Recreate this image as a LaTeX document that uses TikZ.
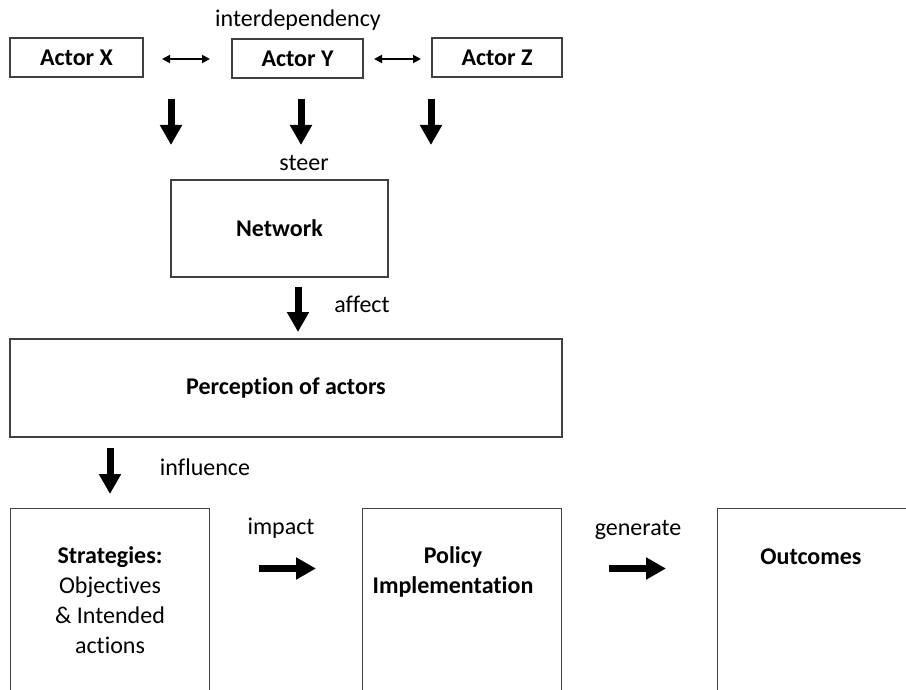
\documentclass[tikz,border=0pt]{standalone}
\usepackage{fontspec}
\setmainfont{Carlito}[Ligatures=NoCommon]
\usetikzlibrary{arrows.meta,positioning}
\newcommand{\dfont}{\fontsize{24}{30}\selectfont}

\begin{document}
\begin{tikzpicture}[x=1pt,y=-1pt]
  \tikzstyle{box}=[rectangle, draw=black!75, line width=1.2pt, inner sep=0pt, font=\dfont\bfseries, align=center]
  \tikzstyle{tag}=[inner sep=0pt, font=\dfont, align=center]
  \tikzstyle{flow}=[-{Triangle[width=21pt,length=20pt]}, line width=7pt]
  \tikzstyle{link}=[{Triangle[width=8pt,length=8pt]}-{Triangle[width=8pt,length=8pt]}, line width=1.8pt]

  \useasboundingbox (0,0) rectangle (906,690);
  \clip (0,0) rectangle (906,690);

  % Actors
  \node[box, minimum width=133, minimum height=39] (ax) at (76.5,57.5) {Actor X};
  \node[box, minimum width=131, minimum height=39] (ay) at (297.5,58.5) {Actor Y};
  \node[box, minimum width=130, minimum height=39] (az) at (497,57.5) {Actor Z};
  \node[tag] (inter) at (298,20) {interdependency};

  % interdependency arrows
  \coordinate (l1) at (162,59);
  \coordinate (l2) at (210,59);
  \coordinate (l3) at (374,59);
  \coordinate (l4) at (421,59);
  \draw[link] (l1) -- (l2);
  \draw[link] (l3) -- (l4);

  % steering arrows
  \coordinate (d1) at (171,99);
  \coordinate (e1) at (171,145);
  \coordinate (d2) at (301,99);
  \coordinate (e2) at (301,145);
  \coordinate (d3) at (431,99);
  \coordinate (e3) at (431,145);
  \draw[flow] (d1) -- (e1);
  \draw[flow] (d2) -- (e2);
  \draw[flow] (d3) -- (e3);
  \node[tag] (steer) at (304,163) {steer};

  % Network
  \node[box, minimum width=217, minimum height=97] (net) at (279.5,228.5) {Network};

  \coordinate (d4) at (298,287);
  \coordinate (e4) at (298,332);
  \draw[flow] (d4) -- (e4);
  \node[tag] (affect) at (362,304) {affect};

  % Perception
  \node[box, minimum width=552, minimum height=98] (perc) at (286,388) {Perception of actors};

  \coordinate (d5) at (110,448);
  \coordinate (e5) at (110,494);
  \draw[flow] (d5) -- (e5);
  \node[tag] (infl) at (205,467) {influence};

  % Bottom row (boxes run off the page)
  \node[box, minimum width=199, minimum height=230, anchor=north west] (strat) at (10,508) {};
  \node[box, minimum width=199, minimum height=230, anchor=north west] (pol) at (362,508) {};
  \node[box, minimum width=230, minimum height=230, anchor=north west] (out) at (717,508) {};

  \node[tag] (strattext) at (110,600) {\textbf{Strategies:}\\Objectives\\\& Intended\\actions};
  \node[tag, font=\dfont\bfseries] (poltext) at (453,571.5) {Policy\\Implementation};
  \node[tag, font=\dfont\bfseries] (outtext) at (811,557) {Outcomes};

  \coordinate (r1) at (259,568.5);
  \coordinate (s1) at (316,568.5);
  \coordinate (r2) at (609,568.5);
  \coordinate (s2) at (666,568.5);
  \draw[flow] (r1) -- (s1);
  \draw[flow] (r2) -- (s2);
  \node[tag] (impact) at (281,528) {impact};
  \node[tag] (gen) at (638,530) {generate};
\end{tikzpicture}
\end{document}
